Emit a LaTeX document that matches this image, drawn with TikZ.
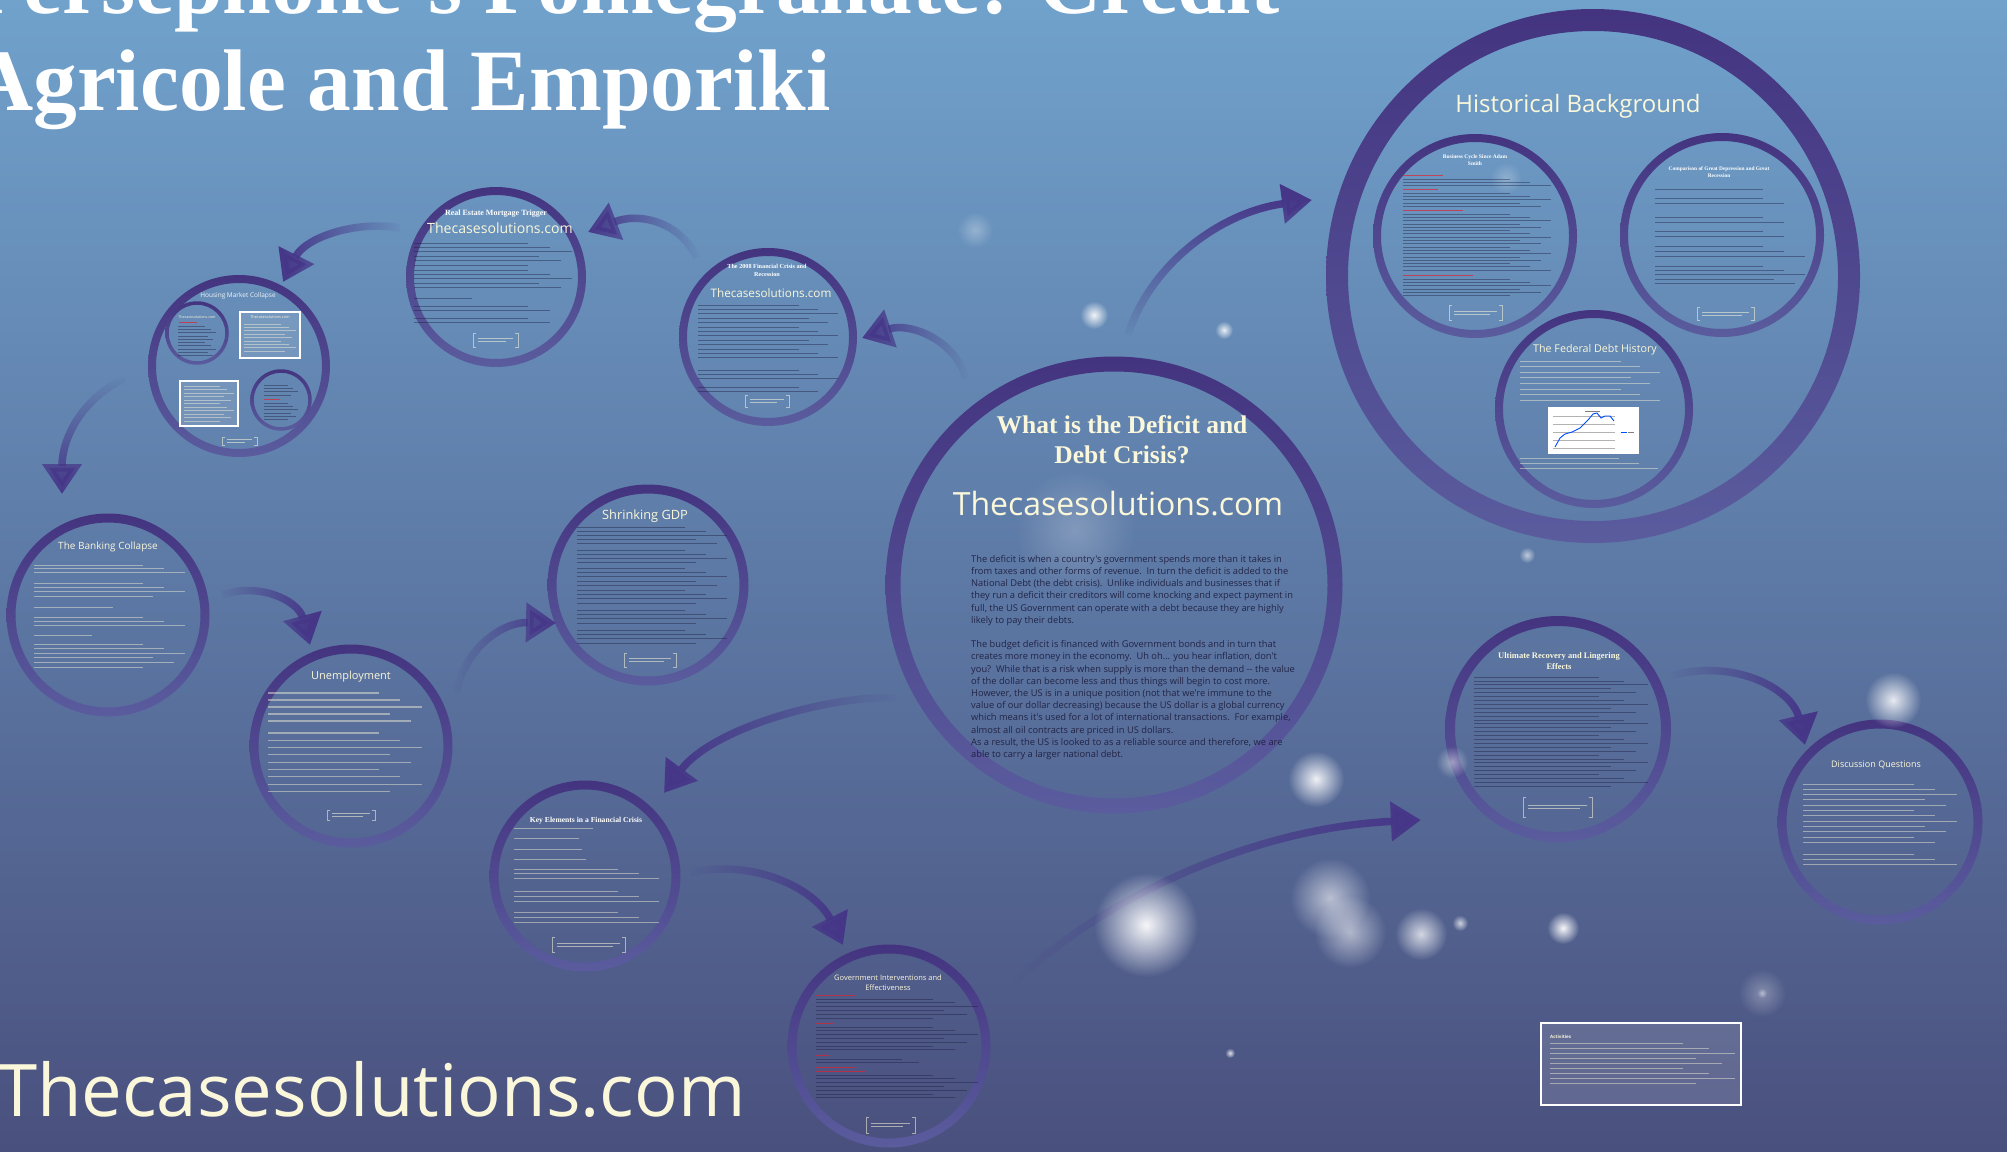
\documentclass[tikz,border=0pt]{standalone}
\usepackage{fontspec}
\setmainfont{Liberation Serif}
\newfontfamily\osans{Open Sans}
\usetikzlibrary{arrows.meta,fadings}

\definecolor{bgtop}{RGB}{112,162,204}
\definecolor{bgmid}{RGB}{96,128,170}
\definecolor{bgbot}{RGB}{74,80,126}
\definecolor{ringtop}{RGB}{68,52,128}
\definecolor{ringbot}{RGB}{90,92,158}
\definecolor{cream}{RGB}{250,247,218}
\definecolor{ink}{RGB}{28,28,60}
\definecolor{arrowc}{RGB}{70,54,136}
\definecolor{redink}{RGB}{225,35,45}

\tikzfading[name=softspot,inner color=transparent!0,outer color=transparent!100]

% a shaded ring: centre x, centre y, mid radius, ring width
\newcommand\ring[4]{%
  \shade[top color=ringtop,bottom color=ringbot,even odd rule]
    (#1,#2) circle[radius=#3+#4/2] (#1,#2) circle[radius=#3-#4/2];}
% a block of text lines: x, top y, width, count, spacing, style
\newcommand\tl[6]{%
  \foreach \k in {1,...,#4}{%
    \pgfmathsetmacro\tlen{#3*(0.72+0.28*mod(\k*7+3,5)/4)}%
    \draw[#6] (#1,{#2+(\k-1)*#5}) -- ++(\tlen,0);}}
% a small bracketed reference: x1, y1, x2, y2
\newcommand\refbrk[4]{%
  \draw[brk] (#1+3,#2) -- (#1,#2) -- (#1,#4) -- (#1+3,#4);
  \draw[brk] (#3-3,#2) -- (#3,#2) -- (#3,#4) -- (#3-3,#4);
  \draw[brk] (#1+5,{(#2+#4)/2-1.5}) -- (#3-5,{(#2+#4)/2-1.5});
  \draw[brk] (#1+5,{(#2+#4)/2+1.5}) -- (#3-12,{(#2+#4)/2+1.5});}
% a soft out-of-focus light spot
\newcommand\bokeh[4]{%
  \fill[white,opacity=#4,path fading=softspot]
    (#1,#2) circle[radius=#3];}

\begin{document}
\begin{tikzpicture}[x=1pt,y=-1pt,
  lt/.style={line width=1.1pt,draw=cream,draw opacity=0.45},
  lts/.style={line width=0.9pt,draw=cream,draw opacity=0.45},
  dk/.style={line width=1.1pt,draw=ink,draw opacity=0.42},
  dks/.style={line width=0.8pt,draw=ink,draw opacity=0.42},
  rd/.style={line width=0.9pt,draw=redink,draw opacity=0.7},
  brk/.style={line width=0.6pt,draw=cream,draw opacity=0.55},
  wbox/.style={draw=white,line width=1.3pt,fill=white,fill opacity=0.12},
  ttl/.style={inner sep=0,anchor=base,text=cream},
  arr/.style={draw=arrowc,line width=7.5pt,-{Triangle[length=30pt,width=38pt]}},
]
\useasboundingbox (0,0) rectangle (2007,1151);
\clip (0,0) rectangle (2007,1151);
\shade[top color=bgtop,middle color=bgmid,bottom color=bgbot] (0,0) rectangle (2007,1151);

% ---------- faint light spots behind everything ----------
\bokeh{1075}{530}{60}{0.22}
\bokeh{975}{230}{18}{0.3}
\bokeh{1762}{993}{24}{0.3}
\bokeh{1506}{178}{16}{0.25}

% ---------- title ----------
\node[inner sep=0,anchor=base west,text=white,font=\bfseries\fontsize{87.5}{90}\selectfont]
  (title1) at (-30,13) {Persephone's Pomegranate: Credit};
\node[inner sep=0,anchor=base west,text=white,font=\bfseries\fontsize{87.5}{90}\selectfont]
  (title2) at (-30,110) {Agricole and Emporiki};
\node[inner sep=0,anchor=base west,text=cream,font=\osans\fontsize{72.5}{72}\selectfont]
  (site) at (-3,1116) {Thecasesolutions.com};

% ---------- central circle ----------
\ring{1114}{585}{221}{15}
\coordinate (central) at (1114,585);
\node[ttl,font=\bfseries\fontsize{25.5}{26}\selectfont] (ct1) at (1122,433) {What is the Deficit and};
\node[ttl,font=\bfseries\fontsize{25.5}{26}\selectfont] (ct2) at (1122,463) {Debt Crisis?};
\node[ttl,font=\osans\fontsize{32}{32}\selectfont] (csite) at (1118,515) {Thecasesolutions.com};
\node[anchor=north west,inner sep=0,text=ink,text opacity=0.9,align=left,
      font=\osans\fontsize{9.3}{12.2}\selectfont] (cbody) at (971,555) {%
The deficit is when a country's government spends more than it takes in\\
from taxes and other forms of revenue.\ \ In turn the deficit is added to the\\
National Debt (the debt crisis).\ \ Unlike individuals and businesses that if\\
they run a deficit their creditors will come knocking and expect payment in\\
full, the US Government can operate with a debt because they are highly\\
likely to pay their debts.\\[12.2pt]
The budget deficit is financed with Government bonds and in turn that\\
creates more money in the economy.\ \ Uh oh... you hear inflation, don't\\
you?\ \ While that is a risk when supply is more than the demand -- the value\\
of the dollar can become less and thus things will begin to cost more.\\
However, the US is in a unique position (not that we're immune to the\\
value of our dollar decreasing) because the US dollar is a global currency\\
which means it's used for a lot of international transactions.\ \ For example,\\
almost all oil contracts are priced in US dollars.\\
As a result, the US is looked to as a reliable source and therefore, we are\\
able to carry a larger national debt.};

% ---------- historical background ----------
\ring{1593}{276}{256}{22}
\node[ttl,font=\osans\fontsize{24}{24}\selectfont] (hist) at (1578,112) {Historical Background};

\ring{1475}{236}{98}{8}
\node[ttl,text=white,font=\bfseries\fontsize{5.5}{6}\selectfont] (bus1) at (1475,158) {Business Cycle Since Adam};
\node[ttl,text=white,font=\bfseries\fontsize{5.5}{6}\selectfont] (bus2) at (1475,165) {Smith};
\draw[rd] (1403,175) -- ++(40,0);
\tl{1403}{179}{148}{3}{3.3}{dks}
\draw[rd] (1403,189) -- ++(35,0);
\tl{1403}{193}{148}{5}{3.3}{dks}
\draw[rd] (1403,210) -- ++(60,0);
\tl{1403}{214}{148}{18}{3.3}{dks}
\draw[rd] (1403,275) -- ++(70,0);
\tl{1403}{279}{148}{6}{3.3}{dks}
\refbrk{1449}{305}{1502}{320}

\ring{1722}{235}{98}{8}
\node[ttl,text=white,font=\bfseries\fontsize{5.4}{6}\selectfont] (cmp1) at (1719,170) {Comparison of Great Depression and Great};
\node[ttl,text=white,font=\bfseries\fontsize{5.4}{6}\selectfont] (cmp2) at (1719,177) {Recession};
\tl{1655}{189}{150}{1}{3.5}{dks}
\tl{1655}{198}{150}{2}{5}{dks}
\tl{1655}{217}{150}{2}{5}{dks}
\tl{1655}{231}{150}{2}{5}{dks}
\tl{1655}{246}{150}{3}{5}{dks}
\tl{1655}{266}{150}{5}{4.3}{dks}
\refbrk{1697}{307}{1754}{320}

\ring{1594}{409}{95}{8}
\node[ttl,font=\osans\fontsize{10.7}{11}\selectfont] (fed) at (1595,352) {The Federal Debt History};
\tl{1520}{361}{140}{8}{5.6}{lts}
\fill[white] (1548,407) rectangle (1639,454);
\draw[gray!60,line width=0.4pt] (1553,416) -- (1615,416) (1553,424) -- (1615,424)
  (1553,432) -- (1615,432) (1553,440) -- (1615,440) (1553,448) -- (1615,448);
\draw[gray,line width=0.8pt] (1585,411) -- (1600,411);
\draw[blue!70!cyan,line width=0.9pt] (1555,447) -- (1560,438) -- (1565,434) -- (1572,432)
  -- (1580,428) -- (1588,420) -- (1593,414) -- (1597,413) -- (1601,418) -- (1605,416)
  -- (1610,416) -- (1614,421);
\draw[blue!70!cyan,line width=0.8pt] (1621,432) -- (1627,432);
\draw[gray,line width=0.6pt] (1628,432) -- (1634,432);
\tl{1520}{458}{138}{3}{5}{lts}

% ---------- 2008 crisis ----------
\ring{768}{337}{85}{8}
\node[ttl,text=white,font=\bfseries\fontsize{6.2}{7}\selectfont] (f08a) at (767,268) {The 2008 Financial Crisis and};
\node[ttl,text=white,font=\bfseries\fontsize{6.2}{7}\selectfont] (f08b) at (767,276) {Recession};
\node[ttl,font=\osans\fontsize{11.7}{12}\selectfont] (f08s) at (771,297) {Thecasesolutions.com};
\tl{698}{305}{140}{13}{4.4}{dks}
\tl{698}{370}{140}{3}{4}{dks}
\tl{698}{387}{140}{2}{4}{dks}
\refbrk{745}{395}{789}{407}

% ---------- real estate ----------
\ring{496}{277}{86}{8}
\node[ttl,text=white,font=\bfseries\fontsize{8}{9}\selectfont] (reT) at (496,215) {Real Estate Mortgage Trigger};
\node[ttl,font=\osans\fontsize{14.1}{14}\selectfont] (reS) at (500,233) {Thecasesolutions.com};
\tl{414}{243}{158}{6}{4.4}{dks}
\tl{414}{270}{158}{5}{4.4}{dks}
\tl{414}{298}{80}{1}{4}{dks}
\tl{414}{306}{158}{2}{4.5}{dks}
\tl{414}{318}{158}{2}{4.5}{dks}
\refbrk{473}{333}{518}{347}

% ---------- housing market ----------
\ring{239}{366}{87}{8}
\node[ttl,text=white,text opacity=0.9,font=\osans\fontsize{6.5}{7}\selectfont] (hou) at (238,297) {Housing Market Collapse};
\ring{197}{333}{30}{3.5}
\node[ttl,font=\osans\fontsize{3.6}{4}\selectfont] (houS1) at (197,318) {Thecasesolutions.com};
\draw[rd] (179,322) -- ++(18,0);
\tl{178}{326}{38}{10}{3.3}{dks}
\draw[wbox] (240,312) rectangle (300,358);
\node[ttl,font=\osans\fontsize{3.8}{4}\selectfont] (houS2) at (270,318) {Thecasesolutions.com};
\tl{244}{324}{52}{9}{3.4}{lts}
\draw[wbox] (180,381) rectangle (238,426);
\tl{184}{386}{50}{11}{3.5}{lts}
\ring{281}{400}{29}{3.5}
\tl{264}{385}{34}{4}{3.3}{dks}
\draw[rd] (264,399) -- ++(16,0);
\tl{264}{403}{34}{6}{3.3}{dks}
\refbrk{222}{437}{257}{445}

% ---------- banking collapse ----------
\ring{108}{615}{97}{9}
\node[ttl,font=\osans\fontsize{10}{10}\selectfont] (bank) at (108,549) {The Banking Collapse};
\tl{34}{565}{151}{3}{3.8}{lts}
\tl{34}{583}{151}{4}{4.4}{lts}
\tl{34}{607}{110}{1}{4}{lts}
\tl{34}{617}{151}{3}{4.4}{lts}
\tl{34}{635}{80}{1}{4}{lts}
\tl{34}{644}{151}{6}{4.6}{lts}

% ---------- unemployment ----------
\ring{351}{746}{97}{9}
\node[ttl,font=\osans\fontsize{11}{11}\selectfont] (unemp) at (351,679) {Unemployment};
\tl{268}{693}{154}{5}{7}{lt}
\tl{268}{733}{154}{9}{7.3}{lt}
\refbrk{327}{810}{375}{820}

% ---------- shrinking GDP ----------
\ring{648}{585}{96}{9}
\node[ttl,font=\osans\fontsize{12.8}{13}\selectfont] (gdp) at (645,519) {Shrinking GDP};
\tl{577}{527}{150}{5}{4}{dks}
\tl{577}{550}{150}{4}{4}{dks}
\tl{577}{568}{150}{9}{4.4}{dks}
\tl{577}{610}{150}{4}{4.3}{dks}
\tl{577}{630}{150}{4}{4.3}{dks}
\refbrk{624}{653}{676}{667}

% ---------- key elements ----------
\ring{585}{876}{91}{9}
\node[ttl,text=white,font=\bfseries\fontsize{7.6}{8}\selectfont] (key) at (586,822) {Key Elements in a Financial Crisis};
\tl{514}{828}{110}{1}{4}{lts}
\tl{514}{838}{90}{1}{4}{lts}
\tl{514}{849}{95}{1}{4}{lts}
\tl{514}{859}{100}{1}{4}{lts}
\tl{514}{869}{145}{3}{4.7}{lts}
\tl{514}{891}{145}{3}{5.2}{lts}
\tl{514}{912}{145}{3}{5.2}{lts}
\refbrk{552}{937}{625}{952}

% ---------- government interventions ----------
\ring{889}{1046}{97}{9}
\node[ttl,font=\osans\fontsize{7.5}{8}\selectfont] (gov1) at (888,980) {Government Interventions and};
\node[ttl,font=\osans\fontsize{7.5}{8}\selectfont] (gov2) at (888,990) {Effectiveness};
\draw[rd] (816,995) -- ++(40,0);
\tl{816}{999}{162}{6}{3.8}{dks}
\draw[rd] (816,1023) -- ++(18,0);
\tl{816}{1027}{162}{7}{3.8}{dks}
\draw[rd] (816,1055) -- ++(14,0);
\tl{816}{1059}{120}{2}{3.8}{dks}
\draw[rd] (816,1067) -- ++(40,0);
\draw[rd] (816,1071) -- ++(50,0);
\tl{816}{1075}{162}{7}{3.8}{dks}
\refbrk{866}{1117}{915}{1133}

% ---------- ultimate recovery ----------
\ring{1558}{729}{108}{10}
\node[ttl,font=\bfseries\fontsize{8.5}{9}\selectfont] (ult1) at (1559,658) {Ultimate Recovery and Lingering};
\node[ttl,font=\bfseries\fontsize{8.5}{9}\selectfont] (ult2) at (1559,669) {Effects};
\tl{1474}{677}{174}{29}{3.9}{dks}
\refbrk{1523}{797}{1592}{817}

% ---------- discussion questions ----------
\ring{1880}{822}{98}{9}
\node[ttl,font=\osans\fontsize{9}{9}\selectfont] (disc) at (1876,767) {Discussion Questions};
\tl{1803}{784}{154}{12}{5.3}{lts}
\tl{1803}{854}{154}{3}{5.3}{lts}

% ---------- activities box ----------
\draw[wbox] (1541,1023) rectangle (1741,1105);
\node[inner sep=0,anchor=base west,text=cream,font=\osans\bfseries\fontsize{4.5}{5}\selectfont] (act) at (1550,1038) {Activities};
\tl{1550}{1043}{185}{9}{5}{lts}

% ---------- connectors ----------
\coordinate (aS) at (1128,335); \coordinate (aT) at (1312,200);
\coordinate (bS) at (966,378);  \coordinate (bT) at (862,338);
\coordinate (cS) at (697,258);  \coordinate (cT) at (588,232);
\coordinate (dS) at (400,228);  \coordinate (dT) at (283,282);
\coordinate (eS) at (125,378);  \coordinate (eT) at (62,494);
\coordinate (fS) at (222,595);  \coordinate (fT) at (310,645);
\coordinate (gS) at (456,693);  \coordinate (gT) at (556,623);
\coordinate (hS) at (896,698);  \coordinate (hT) at (664,793);
\coordinate (iS) at (690,873);  \coordinate (iT) at (843,945);
\coordinate (jS) at (1011,985); \coordinate (jT) at (1421,820);
\coordinate (kS) at (1671,676); \coordinate (kT) at (1805,745);

\draw[arr,path fading=south] (aS) .. controls (1150,265) and (1220,212) .. (aT);
\draw[arr,path fading=east]  (bS) .. controls (955,340) and (910,322) .. (bT);
\draw[arr,path fading=east]  (cS) .. controls (680,222) and (640,212) .. (cT);
\draw[arr,path fading=east]  (dS) .. controls (355,220) and (305,238) .. (dT);
\draw[arr,path fading=north] (eS) .. controls (80,400) and (62,440) .. (eT);
\draw[arr,path fading=west]  (fS) .. controls (258,582) and (298,600) .. (fT);
\draw[arr,path fading=west]  (gS) .. controls (465,648) and (502,622) .. (gT);
\draw[arr,path fading=east]  (hS) .. controls (830,695) and (712,728) .. (hT);
\draw[arr,path fading=west]  (iS) .. controls (752,858) and (815,888) .. (iT);
\draw[arr,path fading=west]  (jS) .. controls (1100,900) and (1250,828) .. (jT);
\draw[arr,path fading=west]  (kS) .. controls (1732,658) and (1792,688) .. (kT);

% ---------- bright light spots in front ----------
\bokeh{1094}{315}{14}{0.9}
\bokeh{1224}{330}{9}{0.85}
\bokeh{1316}{779}{28}{0.9}
\bokeh{1146}{925}{52}{0.95}
\bokeh{1330}{898}{40}{0.6}
\bokeh{1350}{932}{36}{0.55}
\bokeh{1421}{934}{26}{0.75}
\bokeh{1563}{928}{16}{0.95}
\bokeh{1893}{700}{28}{0.85}
\bokeh{1527}{555}{8}{0.6}
\bokeh{1230}{1053}{5}{0.8}
\bokeh{1460}{923}{8}{0.7}
\bokeh{1452}{762}{16}{0.45}
\bokeh{1762}{993}{5}{0.4}
\end{tikzpicture}
\end{document}
